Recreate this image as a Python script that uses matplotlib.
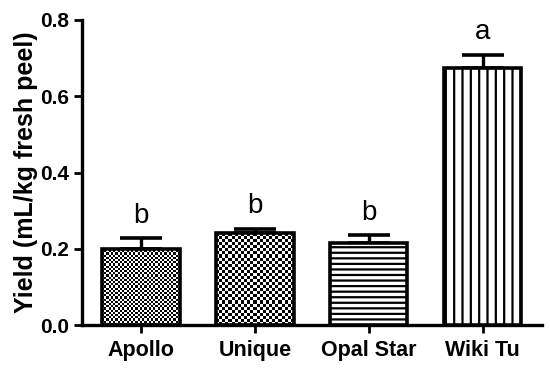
import matplotlib.pyplot as plt
import numpy as np

cultivars = ["Apollo", "Unique", "Opal Star", "Wiki Tu"]
yield_mean = [0.200, 0.241, 0.215, 0.674]
yield_sem = [0.027, 0.011, 0.020, 0.035]
letters = ["b", "b", "b", "a"]

plt.rcParams["font.family"] = ["Liberation Sans", "DejaVu Sans"]
plt.rcParams["hatch.linewidth"] = 1.6

fig = plt.figure(figsize=(5.5, 3.69), dpi=100)
ax = fig.add_axes([0.149, 0.119, 0.836, 0.827])

x = np.arange(len(cultivars))
bars = ax.bar(x, yield_mean, width=0.68, color="white", edgecolor="black",
              linewidth=2.6, zorder=3)
bars[0].set_facecolor("none")
bars[1].set_facecolor("none")
bars[2].set_hatch("---")
bars[3].set_hatch("||")

ax.errorbar(x, yield_mean, yerr=[np.zeros(len(x)), yield_sem], fmt="none",
            ecolor="black", elinewidth=2.4, capsize=15, capthick=2.6, zorder=2)

ax.set_xlim(-0.52, 3.52)
ax.set_ylim(0, 0.8)
ax.set_yticks([0.0, 0.2, 0.4, 0.6, 0.8])
ax.set_yticklabels(["0.0", "0.2", "0.4", "0.6", "0.8"])
ax.set_xticks(x)
ax.set_xticklabels(cultivars)
ax.set_ylabel("Yield (mL/kg fresh peel)", fontsize=18, fontweight="bold", labelpad=2)
for lab in ax.get_yticklabels():
    lab.set_fontweight("bold")
    lab.set_fontsize(15)
for lab in ax.get_xticklabels():
    lab.set_fontweight("bold")
    lab.set_fontsize(15.5)
ax.tick_params(width=2, length=6, direction="out", pad=3)
ax.tick_params(axis="x", pad=5)

for s in ["top", "right"]:
    ax.spines[s].set_visible(False)
for s in ["left", "bottom"]:
    ax.spines[s].set_linewidth(2.4)

for xi, m, e, lt in zip(x, yield_mean, yield_sem, letters):
    ax.text(xi, m + e + 0.025, lt, ha="center", va="bottom", fontsize=20)

# checkerboard fills for the first two bars (clipped images)
fig.canvas.draw()
to_px = ax.transData
for bar, cell in [(bars[0], 2.2), (bars[1], 3.1)]:
    x0, y0 = bar.get_x(), bar.get_y()
    x1, y1 = x0 + bar.get_width(), y0 + bar.get_height()
    (px0, py0), (px1, py1) = to_px.transform([(x0, y0), (x1, y1)])
    nc = int(round((px1 - px0) / cell))
    nr = int(round((py1 - py0) / cell))
    ii, jj = np.indices((nr, nc))
    checker = ((ii + jj) % 2).astype(float)
    im = ax.imshow(checker, cmap="gray", extent=[x0, x1, y0, y1],
                   interpolation="nearest", aspect="auto", zorder=2.5)
    im.set_clip_path(bar)

ax.set_xlim(-0.52, 3.52)
ax.set_ylim(0, 0.8)

fig.savefig("out.png", dpi=100)
